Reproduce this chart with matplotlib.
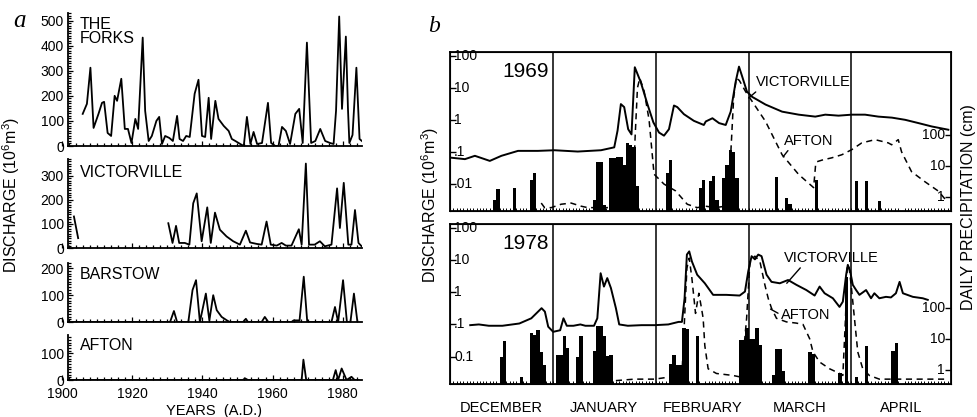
import numpy as np
import matplotlib.pyplot as plt
from matplotlib.ticker import MultipleLocator, FixedLocator, NullLocator, NullFormatter

plt.rcParams['font.family'] = ['Liberation Sans', 'DejaVu Sans']
plt.rcParams['mathtext.fontset'] = 'custom'
plt.rcParams['mathtext.rm'] = 'Liberation Sans'
plt.rcParams['mathtext.it'] = 'Liberation Sans'

# ---------------- panel a : annual discharge (10^6 m^3) ----------------
forks_yr = [1905.9, 1907.1, 1908.1, 1909.0, 1910.4, 1911.4, 1912.0, 1913.0, 1914.0, 1915.0,
            1915.7, 1916.9, 1917.9, 1918.8, 1919.8, 1920.9, 1921.7, 1923.0, 1923.7, 1924.7,
            1925.6, 1926.9, 1927.7, 1928.5, 1929.4, 1930.6, 1931.6, 1932.8, 1933.5, 1934.5,
            1935.4, 1936.4, 1937.8, 1938.9, 1939.9, 1940.8, 1941.8, 1942.5, 1943.7, 1944.6,
            1946.1, 1947.5, 1948.4, 1949.4, 1950.8, 1951.8, 1952.7, 1953.7, 1954.6, 1955.6,
            1957.0, 1958.7, 1959.6, 1960.8, 1961.7, 1962.7, 1963.8, 1965.0, 1966.5, 1967.6,
            1968.6, 1969.8, 1971.0, 1972.2, 1973.6, 1975.0, 1976.4, 1977.4, 1978.1, 1979.0,
            1979.8, 1980.9, 1981.5, 1981.9, 1982.8, 1983.9, 1984.8, 1985.8]
forks_q = [128, 168, 312, 72, 128, 172, 176, 52, 40, 200,
           180, 268, 68, 68, 12, 108, 68, 432, 140, 20,
           40, 100, 116, 8, 40, 32, 20, 120, 28, 20,
           40, 36, 208, 264, 40, 36, 192, 28, 180, 108,
           80, 60, 28, 20, 8, 0, 116, 8, 56, 8,
           12, 172, 12, 0, 0, 76, 60, 8, 128, 148,
           12, 412, 12, 20, 68, 20, 12, 8, 140, 516,
           148, 436, 148, 12, 44, 312, 28, 16]

vict_yr = [1903.4, 1904.6, np.nan,
           1930.3, 1931.5, 1932.5, 1933.4, 1935.0, 1936.3, 1937.4, 1938.4, 1939.8, 1941.4,
           1942.4, 1943.6, 1945.0, 1946.9, 1948.8, 1950.7, 1952.4, 1953.6, 1955.5, 1956.9,
           1958.3, 1959.5, 1961.2, 1962.6, 1963.8, 1965.4, 1967.5, 1968.3, 1969.5, 1970.4,
           1972.0, 1973.5, 1974.9, 1976.8, 1978.4, 1979.2, 1980.3, 1981.6, 1982.5, 1983.5,
           1984.5, 1985.4]
vict_q = [131, 41, np.nan,
          103, 21, 92, 21, 21, 14, 186, 227, 28, 169,
          21, 147, 76, 48, 28, 14, 72, 23, 17, 14,
          110, 14, 10, 21, 10, 10, 78, 14, 351, 14,
          14, 28, 7, 14, 248, 83, 271, 14, 14, 158,
          21, 7]

barstow_yr = [1901.7, 1930.8, 1931.9, 1932.8, 1936.0, 1937.2, 1938.2, 1939.3, 1941.0, 1942.0,
              1943.1, 1944.1, 1945.5, 1947.0, 1947.8, 1951.6, 1952.4, 1953.0, 1956.9, 1957.8,
              1958.8, 1965.4, 1966.0, 1967.7, 1968.9, 1969.9, 1976.8, 1977.8, 1978.7, 1980.1,
              1981.2, 1982.2, 1983.2, 1984.2]
barstow_q = [0, 0, 41, 0, 0, 119, 156, 0, 106, 6,
             100, 44, 19, 6, 0, 0, 12, 0, 0, 19,
             0, 0, 6, 6, 169, 0, 0, 56, 0, 156,
             0, 0, 106, 0]

afton_yr = [1901.7, 1951.5, 1952.2, 1953.0, 1968.3, 1968.8, 1969.6, 1977.2, 1978.0, 1978.7,
            1979.7, 1981.1, 1982.5, 1983.4, 1984.5]
afton_q = [0, 0, 6, 0, 0, 76, 0, 0, 37, 0,
           43, 0, 12, 0, 0]

# ---------------- panel b : daily discharge (10^6 m^3), days from 1 December ----------------
month_names = ['DECEMBER', 'JANUARY', 'FEBRUARY', 'MARCH', 'APRIL']
month_starts = [0, 31, 62, 90, 121, 151]

vict69_day = [0, 4.5, 7.5, 12, 15.5, 20.5, 26.5, 31.5, 38.5, 45.5, 49.5, 50.5, 51.5, 52.5,
              53.7, 54.7, 55.7, 57.5, 59.5, 61.3, 63, 64.5, 66, 67.5, 68.5, 70.5, 73.5, 76.5,
              77.1, 79.1, 81.1, 83.1, 84.6, 86.1, 87.1, 88.1, 89.5, 91.1, 95.1, 100.1, 105.1,
              110.1, 113.1, 117.1, 121.1, 125.1, 129.1, 133.2, 137.2, 141.2, 145.2, 150.2]
vict69_q = [0.066, 0.059, 0.075, 0.052, 0.075, 0.107, 0.107, 0.112, 0.102, 0.112, 0.138, 0.46,
            3.1, 2.5, 0.51, 0.35, 44, 15, 3.1, 0.83, 0.40, 0.32, 0.51, 2.8, 2.5, 1.5, 0.93,
            0.69, 0.89, 1.12, 0.79, 0.69, 1.8, 15.5, 46, 22, 7.6, 5.2, 3.0, 1.8, 1.45,
            1.26, 1.45, 1.35, 1.45, 1.45, 1.26, 1.17, 1.0, 0.79, 0.62, 0.49]

afton69_day = [27.5, 28.5, 30.5, 33.5, 36.5, 39.5, 41.5, 48, 55.0, 55.8, 56.5, 57.2, 58.5, 60.0,
               61.5, 64.5, 68, 71.5, 74.5, 77, 80, 83, 84.5, 85.5, 86.3, 87.2, 89.1, 95.1,
               100.1, 105.1, 109.6, 110.2, 110.6, 112.1, 115.1, 118.1, 121.1, 124.1, 128.1,
               132.1, 133.1, 135.1, 136.1, 139.1, 143.1, 147.2, 149.7]
afton69_q = [0.0025, 0.0018, 0.0018, 0.0023, 0.0025, 0.0020, 0.0018, 0.0018, 0.0020, 0.3, 10,
             20, 8, 1.0, 0.02, 0.0098, 0.006, 0.0023, 0.0018, 0.0020, 0.0018, 0.0020, 0.05, 5,
             20, 17, 7.6, 0.89, 0.081, 0.0195, 0.0076, 0.04, 0.049, 0.055, 0.065, 0.081,
             0.117, 0.19, 0.24, 0.19, 0.166, 0.24, 0.10, 0.024, 0.0117, 0.0059, 0.0029]

rain69_day = [13, 14, 19, 24, 25, 43, 44, 45, 46, 48, 49, 50, 51, 52, 53, 54, 55, 56, 65, 66,
              75, 76, 78, 79, 80, 82, 83, 84, 85, 86, 98, 101, 102, 110, 122, 125, 129]
rain69_cm = [0.7, 1.7, 1.9, 3.5, 5.8, 0.7, 13, 13, 0.44, 18, 18, 20, 20, 11, 54, 48, 40, 2.1,
             5.8, 15.6, 1.9, 3.5, 3.1, 4.5, 0.7, 4, 11, 33, 29, 4, 4.2, 0.8, 0.49, 3.5, 3.1,
             3.1, 0.63]

vict78_day = [6.1, 8.7, 11.7, 15.8, 20.9, 24.5, 27.6, 28.6, 29.6, 31.1, 33.2, 34.2, 35.2, 37.2,
              39.3, 40.8, 43.4, 44.4, 45.4, 46.4, 47.4, 48.5, 50, 51, 53.6, 57.7, 61.7, 65.8,
              68.9, 69.9, 70.7, 71.4, 72.1, 72.9, 74.5, 76.8, 79.3, 83.3, 87.3, 88.9, 89.9,
              90.9, 91.9, 92.9, 93.9, 95.4, 96.9, 99.4, 101.9, 104.4, 107.4, 109.9, 111.4,
              112.9, 115.4, 117.4, 118.4, 119.4, 119.9, 120.6, 121.4, 122.4, 123.4, 125.4,
              126.9, 127.9, 129.4, 131.4, 132.9, 134.4, 135.5, 136.5, 139.5, 142.5, 144]
vict78_q = [0.095, 0.1, 0.091, 0.091, 0.107, 0.155, 0.32, 0.25, 0.085, 0.059, 0.066, 0.155,
            0.091, 0.091, 0.1, 0.091, 0.091, 0.155, 3.9, 1.5, 2.75, 1.35, 0.32, 0.1, 0.091,
            0.095, 0.095, 0.1, 0.12, 0.12, 0.65, 14.8, 18.6, 9.1, 3.5, 1.9, 0.83, 0.83,
            0.79, 1.05, 4.5, 13.2, 10.5, 14.8, 13.2, 3.5, 2.1, 1.9, 2.4, 1.7, 1.17, 0.79,
            1.5, 0.93, 0.65, 0.35, 0.51, 3.5, 7.1, 4.5, 1.7, 1.17, 0.83, 1.17, 0.65, 0.93,
            0.65, 0.72, 0.69, 0.93, 2.1, 0.93, 0.72, 0.65, 0.58]

afton78_day = [50, 55.6, 61.7, 65.8, 69.9, 70.7, 71.4, 72.1, 72.9, 74, 75, 75.8, 76.3, 76.8,
               77.8, 80.3, 85.3, 87.8, 89.4, 90.4, 91.9, 93.4, 94.9, 95.9, 96.9, 98.4, 101.4,
               104.4, 106.4, 108.4, 109.4, 111.4, 114.4, 117.4, 118.4, 119.2, 119.7, 120.2,
               120.9, 121.9, 122.9, 124.4, 126.4, 129.4, 135.5, 140.5, 149.5]
afton78_q = [0.0018, 0.0020, 0.0020, 0.0023, 0.0026, 0.155, 5.6, 11.5, 2.75, 0.22, 0.93, 0.32,
             0.155, 0.022, 0.0042, 0.0030, 0.0026, 0.0023, 0.155, 9.1, 13.2, 9.1, 1.7, 0.65,
             0.32, 0.155, 0.12, 0.11, 0.10, 0.036, 0.014, 0.0068, 0.0042, 0.0030, 0.0026,
             0.155, 5.6, 7.1, 1.7, 0.155, 0.014, 0.0042, 0.0026, 0.0020, 0.0020, 0.0020, 0.0020]

rain78_day = [15, 16, 21, 24, 25, 26, 27, 28, 32, 33, 34, 35, 38, 39, 43, 44, 45, 46, 47, 48,
              66, 67, 68, 69, 70, 71, 74, 87, 88, 89, 90, 91, 92, 93, 97, 98, 99, 100, 108,
              109, 117, 119, 122, 125, 133, 134]
rain78_cm = [2.4, 8.3, 0.48, 15, 13, 19.5, 3.5, 1.3, 3.0, 3.0, 12, 5, 2.4, 12, 3.9, 25, 25, 12,
             2.7, 3.0, 1.45, 3.0, 1.3, 1.3, 22, 20, 12, 9.3, 9.3, 22, 10, 10, 22, 6.4, 0.6,
             4.4, 4.4, 0.8, 3.5, 3.1, 0.7, 1000, 0.5, 5.7, 3.9, 7.3]

W, H = 977, 417


def box(x0, y0, x1, y1):
    # pixel box (top-left origin) -> figure fraction rect
    return [x0 / W, 1 - y1 / H, (x1 - x0) / W, (y1 - y0) / H]


fig = plt.figure(figsize=(W / 100, H / 100), dpi=100)
fig.patch.set_facecolor('white')

# ---------- panel a ----------
stations = [('THE\nFORKS', forks_yr, forks_q, 13, 146, 530, 100),
            ('VICTORVILLE', vict_yr, vict_q, 159, 248, 370, 100),
            ('BARSTOW', barstow_yr, barstow_q, 263, 322, 220, 100),
            ('AFTON', afton_yr, afton_q, 335, 380, 168, 100)]
for i, (name, yr, q, top, bot, ymax, step) in enumerate(stations):
    ax = fig.add_axes(box(62, top, 362, bot))
    ax.plot(yr, q, color='black', lw=1.3)
    ax.set_xlim(1900, 1985.5)
    ax.set_ylim(0, ymax)
    ax.patch.set_visible(False)
    for s in ['top', 'right']:
        ax.spines[s].set_visible(False)
    ax.spines['left'].set_position(('data', 1901.7))
    ax.spines['bottom'].set_bounds(1901.7, 1985.5)
    ax.spines['left'].set_linewidth(1.3)
    ax.spines['bottom'].set_linewidth(1.3)
    ax.set_yticks(np.arange(0, ymax, step))
    ax.yaxis.set_minor_locator(MultipleLocator(10))
    ax.xaxis.set_major_locator(MultipleLocator(20))
    ax.xaxis.set_minor_locator(MultipleLocator(2))
    ax.tick_params(which='both', direction='in', width=0.9, labelsize=10, pad=3)
    ax.tick_params(axis='x', pad=5)
    ax.tick_params(which='major', length=3.5)
    ax.tick_params(which='minor', length=2.5)
    if i < 3:
        ax.tick_params(axis='x', labelbottom=False)
    ax.text(0.06, 0.97 if i == 0 else 0.93, name, transform=ax.transAxes,
            fontsize=11.5, va='top', ha='left', linespacing=0.95)

fig.text(19 / W, 1 - 21 / H, 'a', family='Liberation Serif', style='italic', fontsize=18,
         ha='center', va='center')
fig.text(11 / W, 1 - 195 / H, 'DISCHARGE (10$^6$m$^3$)', rotation=90, fontsize=11.5,
         ha='center', va='center')
fig.text(214 / W, 1 - 410.5 / H, 'YEARS  (A.D.)', fontsize=10.5, ha='center', va='center')

# ---------- panel b ----------
fig.text(434 / W, 1 - 27 / H, 'b', family='Liberation Serif', style='italic', fontsize=17,
         ha='center', va='center')

panels = [('1969', vict69_day, vict69_q, afton69_day, afton69_q, rain69_day, rain69_cm,
           52, 211, ['100', '10', '1', '.1', '.01']),
          ('1978', vict78_day, vict78_q, afton78_day, afton78_q, rain78_day, rain78_cm,
           224, 384, ['100', '10', '1', '.1', '0.1'])]
for j, (yr, vd, vq, ad, aq, rd, rc, top, bot, ylabs) in enumerate(panels):
    ax = fig.add_axes(box(450, top, 951, bot))
    ax2 = ax.twinx()
    ax2.bar(np.array(rd) + 0.5, rc, width=1.0, bottom=0.1, color='black', lw=0)
    ax2.set_yscale('log')
    ax2.set_ylim(10 ** -0.46, 10 ** 4.7)
    ax2.yaxis.set_major_locator(FixedLocator([1, 10, 100]))
    ax2.yaxis.set_minor_locator(NullLocator())
    ax2.yaxis.set_major_formatter(NullFormatter())
    ax2.tick_params(axis='y', direction='in', length=4, width=1)
    for v, s in zip([100, 10, 1], ['100', '10', '1']):
        ax2.text(0.988, v, s, transform=ax2.get_yaxis_transform(), ha='right', va='center',
                 fontsize=10)

    ax.set_zorder(ax2.get_zorder() + 1)
    ax.patch.set_visible(False)
    ax.plot(vd, vq, color='black', lw=1.4)
    ax.plot(ad, aq, color='black', lw=1.1, dashes=(4, 3))
    ax.set_yscale('log')
    ax.set_ylim(10 ** -2.85, 10 ** 2.12)
    ax.set_xlim(0, 151)
    for m in month_starts[1:-1]:
        ax.axvline(m, color='black', lw=1.1)
    ax.yaxis.set_major_locator(FixedLocator([100, 10, 1, 0.1, 0.01]))
    ax.yaxis.set_minor_locator(NullLocator())
    ax.yaxis.set_major_formatter(NullFormatter())
    ax.tick_params(axis='y', direction='in', length=4, width=1)
    for v, s in zip([100, 10, 1, 0.1, 0.01], ylabs):
        ax.text(0.008, v, s, transform=ax.get_yaxis_transform(), ha='left', va='center',
                fontsize=10)
    ax.xaxis.set_minor_locator(MultipleLocator(1))
    centers = [(a + b) / 2 for a, b in zip(month_starts[:-1], month_starts[1:])]
    ax.set_xticks(centers)
    ax.tick_params(axis='x', which='major', length=0, labelsize=10.5, pad=12)
    ax.tick_params(axis='x', which='minor', direction='in', length=2, width=0.7)
    if j == 0:
        ax.set_xticklabels([])
    else:
        ax.set_xticklabels(month_names)
    for s in ax.spines.values():
        s.set_linewidth(1.3)
    ax.text(0.15, 0.88, yr, transform=ax.transAxes, fontsize=15, ha='center', va='center')

    if j == 0:
        ax.annotate('VICTORVILLE', xy=(90, 4.8), xytext=(92.2, 15), fontsize=10.5,
                    ha='left', va='center',
                    arrowprops=dict(arrowstyle='-', lw=1, color='black', relpos=(0.05, 0.1),
                                    shrinkA=0, shrinkB=0))
        ax.annotate('AFTON', xy=(100.4, 0.07), xytext=(100.6, 0.22), fontsize=10.5,
                    ha='left', va='center',
                    arrowprops=dict(arrowstyle='-', lw=1, color='black', relpos=(0.15, 0.1),
                                    shrinkA=0, shrinkB=0))
    else:
        ax.annotate('VICTORVILLE', xy=(101.5, 1.9), xytext=(100.6, 11.5), fontsize=10.5,
                    ha='left', va='center',
                    arrowprops=dict(arrowstyle='-', lw=1, color='black', relpos=(0.2, 0.0),
                                    shrinkA=0, shrinkB=0))
        ax.annotate('AFTON', xy=(96.6, 0.3), xytext=(99.7, 0.2), fontsize=10.5,
                    ha='left', va='center',
                    arrowprops=dict(arrowstyle='-', lw=1, color='black', relpos=(0.0, 0.5),
                                    shrinkA=0, shrinkB=0))

fig.text(430 / W, 1 - 205 / H, 'DISCHARGE (10$^6$m$^3$)', rotation=90, fontsize=11.5,
         ha='center', va='center')
fig.text(969 / W, 1 - 207 / H, 'DAILY PRECIPITATION (cm)', rotation=90, fontsize=11.5,
         ha='center', va='center')

fig.savefig('out.png', dpi=100)
